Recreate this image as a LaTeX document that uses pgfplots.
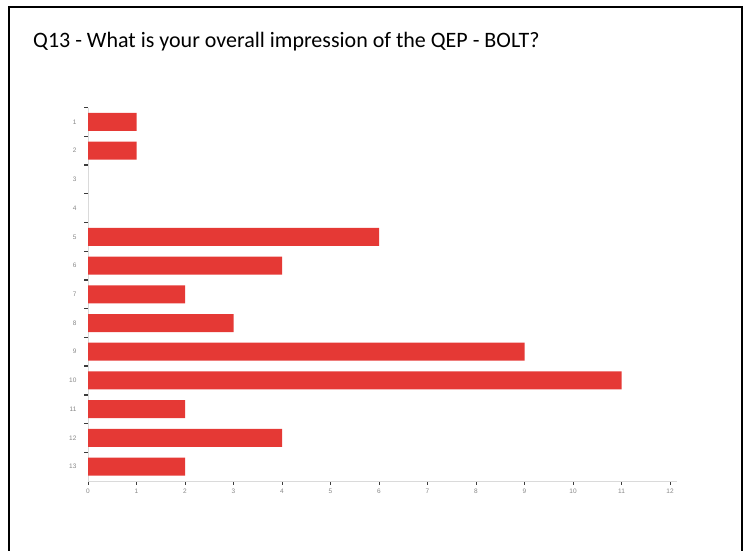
\documentclass[border=0pt]{standalone}
\usepackage{pgfplots}
\pgfplotsset{compat=1.18}
\usepackage{fontspec}
\setmainfont{Carlito}
\newfontfamily\tickfont{Liberation Sans}
\definecolor{barred}{RGB}{229,57,53}
\definecolor{axisgray}{RGB}{218,218,218}
\definecolor{ticklab}{RGB}{135,135,135}
\definecolor{tickmark}{RGB}{60,60,60}

\begin{document}
\begin{tikzpicture}
\path[use as bounding box] (0pt,0pt) rectangle (749pt,551pt);
\draw[line width=2pt] (9pt,-3pt) -- (9pt,544pt) -- (742pt,544pt) -- (742pt,-3pt);
\node[anchor=base west, inner sep=0pt, font=\fontsize{22}{26}\selectfont] at (33pt,503pt)
  {Q13 - What is your overall impression of the QEP - BOLT?};
\begin{axis}[
  at={(88pt,70pt)}, anchor=south west,
  scale only axis, width=582pt, height=373.4pt,
  xbar, bar width=18pt,
  xmin=0, xmax=12, ymin=0.5, ymax=13.5,
  axis x line*=bottom, axis y line*=left,
  axis line style={draw=axisgray, line width=0.8pt, -},
  x axis line style={shorten >=-7pt},
  /pgf/number format/assume math mode=true,
  tick align=outside,
  major tick length=4pt,
  tick style={draw=tickmark, line width=0.9pt},
  xtick={0,1,...,12},
  x tick label style={font=\tickfont\fontsize{6.5}{7}\selectfont, text=ticklab},
  ytick={1.5,2.5,...,13.5},
  yticklabels={},
  y tick style={line width=1.4pt},
  extra y ticks={1,2,...,13},
  extra y tick labels={13,12,11,10,9,8,7,6,5,4,3,2,1},
  extra y tick style={major tick length=0pt,
    yticklabel style={font=\tickfont\fontsize{6.5}{7}\selectfont, text=ticklab, xshift=-8pt}},
]
% zero answers draw no bar
\addplot[fill=barred, draw=none, x filter/.expression={x==0 ? nan : x}] coordinates {
(1,13) (1,12) (0,11) (0,10) (6,9) (4,8) (2,7) (3,6) (9,5) (11,4) (2,3) (4,2) (2,1)
};
\end{axis}
\end{tikzpicture}
\end{document}
